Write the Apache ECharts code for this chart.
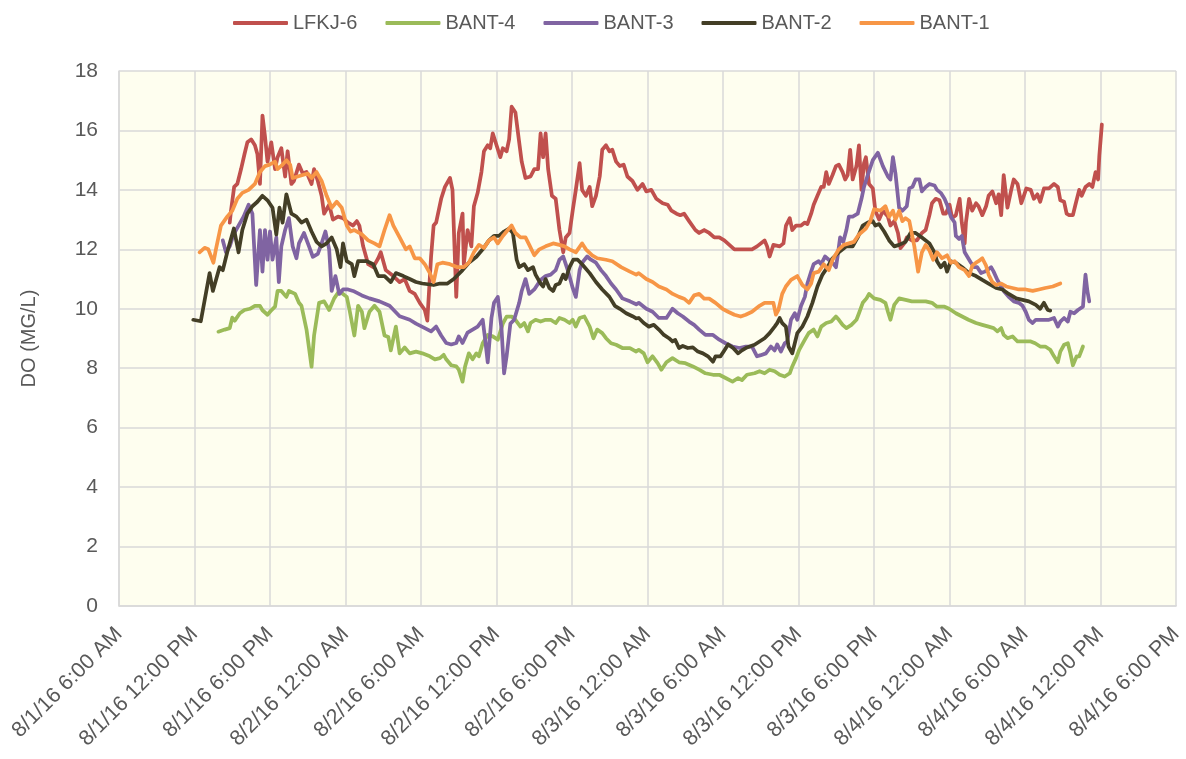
<!DOCTYPE html>
<html>
<head>
<meta charset="utf-8">
<script src="https://cdn.jsdelivr.net/npm/echarts@6/dist/echarts.min.js"></script>
<style>
html,body{margin:0;padding:0;background:#fff;}
#chart{width:1186px;height:759px;}
</style>
</head>
<body>
<div id="chart"></div>
<script>
// x values are hours after 8/1/16 6:00 AM
var tickLabels = ['8/1/16 6:00 AM','8/1/16 12:00 PM','8/1/16 6:00 PM','8/2/16 12:00 AM','8/2/16 6:00 AM','8/2/16 12:00 PM','8/2/16 6:00 PM','8/3/16 12:00 AM','8/3/16 6:00 AM','8/3/16 12:00 PM','8/3/16 6:00 PM','8/4/16 12:00 AM','8/4/16 6:00 AM','8/4/16 12:00 PM','8/4/16 6:00 PM'];
var seriesNames = ['LFKJ-6','BANT-4','BANT-3','BANT-2','BANT-1'];

var lfkj6 = [[8.8,12.9],[8.9,13.3],[9.15,14.1],[9.4,14.2],[9.7,14.7],[9.97,15.2],[10.2,15.6],[10.5,15.7],[10.8,15.5],[11.0,15.2],[11.2,14.2],[11.4,16.5],[11.6,15.8],[11.8,14.95],[12.1,15.6],[12.4,14.7],[12.6,15.1],[12.9,15.4],[13.2,14.45],[13.4,15.3],[13.7,14.2],[13.9,14.3],[14.3,14.85],[14.6,14.55],[14.9,14.6],[15.3,14.2],[15.5,14.7],[15.8,14.3],[16.1,13.8],[16.3,13.2],[16.7,13.5],[17.0,13.0],[17.4,13.1],[17.8,13.05],[18.2,12.9],[18.6,12.8],[18.9,12.95],[19.1,12.8],[19.4,12.1],[19.8,11.5],[20.2,11.4],[20.6,11.7],[20.8,11.9],[21.2,11.3],[21.8,11.1],[22.3,10.9],[22.7,11.0],
[23.1,10.6],[23.5,10.5],[23.9,10.2],[24.3,9.96],[24.5,9.6],[24.8,11.76],[25.0,12.8],[25.2,12.9],[25.6,13.7],[25.9,14.1],[26.3,14.4],[26.5,14.0],[26.8,10.4],[27.0,12.55],[27.3,13.2],[27.4,11.5],[27.7,12.65],[28.0,12.1],[28.2,13.45],[28.5,13.9],[28.8,14.6],[29.0,15.3],[29.3,15.5],[29.5,15.4],[29.7,15.9],[30.0,15.5],[30.3,15.1],[30.5,15.4],[30.8,15.3],[31.0,15.7],[31.2,16.8],[31.5,16.6],[31.8,15.6],[32.0,14.95],[32.3,14.4],[32.7,14.45],[33.0,14.7],[33.3,14.7],[33.5,15.9],[33.7,15.1],[33.9,15.9],[34.1,14.7],[34.4,13.8],[34.7,13.7],[35.0,12.65],[35.3,11.9],[35.5,12.4],[35.8,12.55],[36.05,13.3],[36.3,14.0],[36.6,14.9],[36.8,14.0],[37.1,13.8],[37.4,14.1],[37.6,13.45],[37.9,13.8],[38.2,14.45],[38.4,15.35],[38.7,15.5],[38.97,15.3],[39.2,15.35],[39.5,14.95],[39.8,14.8],[40.1,14.85],[40.4,14.45],[40.8,14.3],[41.2,14.0],
[41.6,14.2],[41.9,13.95],[42.3,14.0],[42.7,13.7],[43.2,13.55],[43.6,13.5],[43.9,13.3],[44.3,13.2],[44.6,13.15],[44.9,13.2],[45.3,12.95],[45.8,12.65],[46.1,12.55],[46.5,12.65],[46.9,12.55],[47.3,12.4],[47.7,12.4],[48.1,12.3],[48.5,12.15],[48.9,12.0],[49.3,12.0],[49.8,12.0],[50.3,12.0],[50.7,12.1],[51.3,12.3],[51.5,12.1],[51.7,11.76],[52.0,12.15],[52.5,12.1],[52.8,12.2],[53.0,12.8],[53.3,13.05],[53.5,12.65],[53.8,12.8],[54.2,12.8],[54.5,12.9],[54.7,12.85],[55.0,13.2],[55.2,13.5],[55.5,13.8],[55.8,14.1],[56.0,14.1],[56.2,14.6],[56.4,14.2],[56.7,14.5],[56.97,14.8],[57.2,14.85],[57.5,14.6],[57.7,14.35],[57.9,14.5],[58.1,15.35],[58.3,14.35],[58.6,14.8],[58.8,15.5],[59.0,14.0],[59.2,14.9],[59.35,15.1],[59.6,14.2],
[59.9,14.05],[60.1,13.3],[60.4,13.0],[60.7,13.3],[61.1,13.1],[61.3,12.8],[61.6,12.95],[61.9,12.55],[62.1,12.04],[62.4,12.2],[62.6,12.4],[63.0,12.3],[63.4,12.3],[63.8,12.55],[64.1,12.65],[64.4,13.15],[64.6,13.55],[64.9,13.7],[65.2,13.65],[65.5,13.2],[65.7,13.2],[66.0,13.5],[66.2,13.05],[66.5,13.15],[66.8,13.7],[66.97,12.9],[67.2,12.2],[67.3,12.9],[67.55,13.7],[67.8,13.3],[68.1,13.55],[68.3,13.45],[68.6,13.15],[68.9,13.45],[69.1,13.8],[69.4,13.95],[69.7,13.55],[69.9,13.85],[70.1,13.15],[70.3,14.5],[70.6,13.4],[70.9,14.0],[71.1,14.35],[71.4,14.2],[71.7,13.55],[71.9,13.8],[72.1,14.05],[72.45,14.0],[72.7,13.7],[72.98,13.85],[73.2,13.6],[73.5,14.05],[73.9,14.05],[74.3,14.2],[74.6,14.1],[74.8,13.65],[75.1,13.6],[75.3,13.2],[75.5,13.15],[75.8,13.15],[76.0,13.5],[76.3,14.0],[76.5,13.8],[76.8,14.1],[77.1,14.2],[77.35,14.1],[77.6,14.6],[77.8,14.35],[77.9,15.15],[78.1,16.2]];

var bant4 = [[7.9,9.23],[8.4,9.3],[8.8,9.35],[9.0,9.7],[9.2,9.6],[9.6,9.85],[9.97,9.96],[10.4,10.0],[10.8,10.1],[11.2,10.1],[11.4,9.95],[11.8,9.8],[12.1,9.95],[12.4,10.07],[12.6,10.6],[12.9,10.6],[13.3,10.4],[13.5,10.6],[14.0,10.5],[14.3,10.2],[14.5,10.1],[14.9,9.3],[15.3,8.05],[15.5,9.1],[15.9,10.2],[16.3,10.25],[16.7,9.96],[17.1,10.35],[17.5,10.6],[17.8,10.5],[18.1,10.4],[18.3,10.0],[18.7,9.1],[19.0,10.1],[19.3,9.9],[19.5,9.35],[19.9,9.9],[20.3,10.1],[20.7,9.9],[21.1,9.1],[21.4,9.05],[21.6,8.6],[22.0,9.4],[22.3,8.5],[22.7,8.7],
[23.1,8.5],[23.6,8.56],[24.1,8.5],[24.7,8.4],[25.1,8.3],[25.5,8.34],[25.8,8.45],[26.0,8.3],[26.4,8.1],[26.8,8.06],[27.0,7.95],[27.3,7.55],[27.5,8.06],[27.8,8.5],[28.1,8.3],[28.4,8.5],[28.6,8.4],[28.9,8.84],[29.3,9.12],[29.7,9.07],[30.1,8.96],[30.5,9.5],[30.8,9.74],[31.2,9.74],[31.5,9.63],[31.9,9.4],[32.2,9.52],[32.5,9.24],[32.7,9.52],[33.1,9.63],[33.5,9.57],[33.9,9.63],[34.3,9.63],[34.7,9.52],[35.0,9.69],[35.4,9.63],[35.8,9.52],[36.05,9.63],[36.3,9.4],[36.6,9.69],[36.98,9.74],[37.4,9.4],[37.7,9.01],[38.0,9.3],[38.4,9.18],[38.7,9.01],[39.1,8.84],[39.5,8.79],[40.0,8.68],[40.6,8.68],[41.1,8.56],
[41.3,8.62],[41.7,8.5],[42.0,8.2],[42.4,8.4],[42.8,8.17],[43.1,7.95],[43.5,8.2],[43.98,8.34],[44.5,8.2],[45.0,8.17],[45.6,8.06],[46.1,7.95],[46.6,7.83],[47.2,7.78],[47.7,7.78],[48.2,7.67],[48.75,7.55],[49.2,7.67],[49.5,7.6],[49.9,7.78],[50.5,7.83],[50.9,7.9],[51.3,7.83],[51.7,7.95],[52.1,7.9],[52.5,7.78],[52.9,7.72],[53.3,7.83],[53.5,8.06],[53.8,8.34],[54.05,8.62],[54.5,8.96],[54.8,9.18],[55.2,9.3],[55.5,9.07],[55.8,9.4],[56.2,9.52],[56.6,9.57],[56.97,9.74],[57.2,9.63],[57.5,9.46],[57.8,9.35],[58.2,9.46],[58.6,9.63],[58.8,9.85],[59.1,10.2],[59.4,10.35],[59.6,10.5],
[60.0,10.35],[60.5,10.3],[60.9,10.2],[61.1,9.9],[61.3,9.63],[61.6,10.13],[61.99,10.35],[62.5,10.3],[63.0,10.25],[63.6,10.25],[64.1,10.25],[64.6,10.2],[65.0,10.07],[65.6,10.07],[65.96,10.0],[66.5,9.85],[67.0,9.74],[67.5,9.63],[68.1,9.52],[68.6,9.46],[69.1,9.4],[69.5,9.35],[69.8,9.24],[70.1,9.35],[70.3,9.12],[70.6,9.01],[71.0,9.07],[71.4,8.9],[71.9,8.9],[72.45,8.9],[72.8,8.84],[73.2,8.73],[73.6,8.73],[74.0,8.62],[74.3,8.4],[74.6,8.2],[74.8,8.56],[75.1,8.79],[75.4,8.84],[75.6,8.5],[75.8,8.1],[76.1,8.4],[76.3,8.4],[76.6,8.73]];

var bant3 = [[8.25,12.3],[8.5,11.9],[8.8,12.1],[9.1,12.5],[9.5,12.8],[9.9,13.1],[10.3,13.5],[10.6,13.2],[10.9,10.8],[11.2,12.65],[11.4,11.25],[11.6,12.65],[11.8,11.65],[12.0,12.6],[12.2,11.65],[12.5,12.4],[12.7,10.9],[12.9,12.1],[13.2,12.65],[13.5,13.05],[13.8,12.1],[14.1,11.7],[14.3,12.2],[14.7,12.55],[15.1,12.1],[15.4,11.75],[15.8,11.85],[16.1,12.2],[16.4,12.6],[16.7,12.0],[16.9,10.6],[17.2,11.1],[17.5,10.5],[17.8,10.65],[18.2,10.65],[18.6,10.6],[19.3,10.45],[19.9,10.35],[20.7,10.25],[21.5,10.1],[22.3,9.75],
[23.1,9.63],[23.6,9.5],[24.3,9.35],[24.8,9.24],[25.2,9.4],[25.6,9.1],[26.0,8.85],[26.4,8.8],[26.8,8.85],[27.0,9.07],[27.3,8.85],[27.7,9.2],[28.1,9.3],[28.5,9.4],[28.9,9.63],[29.1,8.96],[29.3,8.2],[29.6,9.7],[29.8,10.2],[30.1,10.4],[30.4,9.3],[30.6,7.83],[30.8,8.4],[31.1,9.5],[31.4,9.63],[31.8,10.2],[32.0,10.6],[32.3,11.0],[32.6,10.5],[33.0,10.65],[33.5,10.97],[33.9,11.1],[34.3,11.15],[34.7,11.3],[35.0,11.65],[35.3,11.76],[35.5,11.5],[35.7,11.25],[36.05,10.7],[36.3,10.4],[36.6,11.3],[36.8,11.55],[37.2,11.76],[37.5,11.65],[37.9,11.55],[38.3,11.3],[38.7,11.1],[39.1,10.85],[39.5,10.65],[40.0,10.35],[40.6,10.25],[41.1,10.15],
[41.3,10.2],[41.9,10.0],[42.4,9.9],[42.9,9.69],[43.5,9.69],[43.98,10.0],[44.4,9.85],[44.8,9.74],[45.3,9.57],[45.7,9.46],[46.1,9.3],[46.6,9.12],[47.2,9.12],[47.7,8.96],[48.2,8.84],[48.75,8.73],[49.3,8.68],[49.8,8.73],[50.3,8.73],[50.7,8.4],[51.0,8.44],[51.4,8.5],[51.8,8.73],[52.1,8.6],[52.3,8.8],[52.6,8.56],[52.9,8.84],[53.1,8.9],[53.4,9.63],[53.7,9.85],[53.9,9.63],[54.2,10.1],[54.5,10.4],[54.7,10.85],[55.0,11.25],[55.2,11.5],[55.6,11.6],[55.8,11.5],[56.1,11.76],[56.4,11.65],[56.7,11.55],[56.97,11.4],[57.1,11.76],[57.3,12.4],[57.55,12.25],[57.8,12.65],[58.0,13.1],[58.3,13.1],[58.7,13.2],[59.0,13.7],[59.2,14.1],[59.5,14.5],
[59.9,15.0],[60.3,15.25],[60.7,14.8],[61.1,14.45],[61.3,14.35],[61.5,15.1],[61.7,14.55],[61.99,13.4],[62.25,13.3],[62.6,13.45],[62.8,14.05],[63.05,14.1],[63.3,14.35],[63.6,14.35],[63.8,13.95],[64.1,14.1],[64.4,14.2],[64.8,14.15],[65.0,14.0],[65.3,13.9],[65.6,13.7],[65.8,13.5],[66.1,13.1],[66.4,12.9],[66.5,12.45],[66.75,12.35],[66.97,12.45],[67.2,11.9],[67.4,11.76],[67.7,11.55],[67.95,11.4],[68.2,11.4],[68.5,11.2],[68.8,11.25],[69.0,11.3],[69.3,11.4],[69.5,11.25],[69.8,10.97],[70.1,10.75],[70.3,10.6],[70.7,10.4],[71.1,10.25],[71.5,10.2],[71.8,10.1],[72.05,9.9],[72.3,9.63],[72.6,9.52],[72.85,9.63],[73.4,9.63],[73.9,9.63],[74.3,9.69],[74.6,9.4],[74.8,9.57],[75.1,9.69],[75.4,9.57],[75.6,9.9],[75.9,9.85],[76.2,9.96],[76.6,10.07],[76.7,10.65],[76.8,11.15],[76.95,10.6],[77.1,10.25]];

var bant2 = [[5.9,9.63],[6.5,9.58],[7.2,11.2],[7.46,10.6],[7.99,11.4],[8.25,11.3],[8.6,11.9],[9.13,12.7],[9.5,11.9],[9.8,12.65],[10.2,13.2],[10.6,13.45],[11.0,13.6],[11.4,13.8],[11.8,13.65],[12.2,13.4],[12.5,12.5],[12.75,13.4],[13.0,12.9],[13.3,13.85],[13.7,13.2],[14.1,13.1],[14.5,12.9],[14.9,13.0],[15.3,12.6],[15.7,12.25],[16.1,12.1],[16.5,12.2],[16.9,12.4],[17.3,12.0],[17.6,11.4],[17.8,12.2],[18.1,11.6],[18.5,11.5],[18.7,11.1],[19.0,11.6],[19.7,11.6],[20.2,11.5],[20.6,11.1],[21.1,11.1],[21.6,10.9],[22.0,11.2],[22.6,11.1],
[23.1,11.0],[23.6,10.9],[24.1,10.85],[25.0,10.8],[25.5,10.85],[26.1,10.85],[26.6,11.0],[27.3,11.3],[27.8,11.55],[28.4,11.75],[28.9,12.0],[29.4,12.3],[29.8,12.45],[30.2,12.45],[30.6,12.6],[31.0,12.7],[31.3,12.55],[31.6,11.65],[31.8,11.4],[32.2,11.5],[32.5,11.3],[32.9,11.4],[33.1,11.15],[33.5,10.85],[33.7,10.75],[33.9,11.0],[34.2,10.7],[34.5,10.6],[34.7,10.8],[35.0,10.85],[35.3,11.15],[35.5,11.0],[35.8,11.4],[36.1,11.65],[36.45,11.65],[36.8,11.5],[37.4,11.2],[37.9,10.9],[38.4,10.65],[38.97,10.4],[39.4,10.1],[39.8,10.0],[40.3,9.85],[40.8,9.75],[41.1,9.68],
[41.3,9.69],[41.7,9.52],[42.1,9.4],[42.5,9.46],[42.9,9.3],[43.3,9.12],[43.7,9.01],[43.98,8.9],[44.2,8.95],[44.5,8.68],[44.8,8.75],[45.2,8.68],[45.6,8.7],[46.0,8.56],[46.4,8.5],[46.8,8.4],[47.2,8.22],[47.4,8.4],[47.8,8.4],[48.1,8.6],[48.4,8.8],[48.8,8.68],[49.2,8.5],[49.5,8.6],[49.9,8.7],[50.5,8.79],[50.9,8.9],[51.3,9.01],[51.7,9.18],[52.1,9.4],[52.3,9.52],[52.5,9.69],[52.7,9.52],[52.99,9.4],[53.2,8.73],[53.5,8.5],[53.7,8.84],[53.9,9.18],[54.3,9.4],[54.7,9.74],[55.1,10.2],[55.5,10.75],[55.9,11.15],[56.3,11.4],[56.7,11.7],[57.2,11.9],[57.8,12.1],[58.3,12.1],[58.7,12.4],[59.1,12.8],[59.5,12.9],
[59.9,12.95],[60.1,12.8],[60.4,12.85],[60.8,12.6],[61.2,12.3],[61.6,12.1],[61.99,12.15],[62.5,12.25],[62.9,12.55],[63.3,12.55],[63.8,12.4],[64.4,12.2],[64.8,11.9],[65.0,11.6],[65.3,11.4],[65.6,11.55],[65.8,11.25],[66.1,11.6],[66.5,11.55],[67.0,11.4],[67.55,11.2],[68.1,11.1],[68.6,10.97],[69.1,10.85],[69.7,10.7],[70.2,10.65],[70.7,10.5],[71.3,10.35],[71.8,10.3],[72.3,10.25],[72.85,10.13],[73.2,10.0],[73.5,10.2],[73.8,9.96],[74.0,9.94]];

var bant1 = [[6.4,11.9],[6.8,12.05],[7.1,12.0],[7.5,11.55],[7.7,12.0],[8.1,12.8],[8.6,13.1],[9.0,13.3],[9.4,13.7],[9.8,13.9],[10.3,14.0],[10.8,14.2],[11.2,14.6],[11.6,14.8],[11.96,14.85],[12.4,14.95],[12.6,14.7],[13.0,14.85],[13.3,15.0],[13.6,14.85],[13.8,14.4],[14.2,14.45],[14.6,14.5],[15.0,14.55],[15.3,14.4],[15.7,14.6],[16.1,14.3],[16.5,13.8],[16.9,13.4],[17.3,13.6],[17.7,13.4],[18.1,12.8],[18.4,12.6],[18.7,12.65],[19.3,12.5],[19.8,12.3],[20.3,12.2],[20.7,12.1],[21.1,12.65],[21.5,13.15],[21.8,12.8],[22.3,12.4],[22.8,12.0],
[23.1,12.1],[23.5,11.7],[23.9,11.7],[24.3,11.5],[24.7,11.2],[25.0,10.9],[25.3,11.5],[25.7,11.55],[26.3,11.5],[26.9,11.4],[27.4,11.4],[27.8,11.55],[28.2,11.9],[28.6,12.15],[29.0,12.05],[29.4,12.3],[29.8,12.4],[30.1,12.2],[30.5,12.45],[30.9,12.65],[31.2,12.8],[31.5,12.55],[31.9,12.4],[32.3,12.4],[32.6,12.15],[33.0,11.8],[33.4,12.0],[33.9,12.1],[34.5,12.2],[35.0,12.15],[35.4,12.1],[35.8,12.0],[36.3,11.9],[36.8,12.2],[37.1,12.0],[37.6,11.8],[38.0,11.7],[38.7,11.65],[39.2,11.6],[39.9,11.4],[40.6,11.25],[41.1,11.15],
[41.3,11.2],[41.9,11.0],[42.4,10.9],[42.9,10.75],[43.5,10.65],[44.0,10.5],[44.5,10.4],[44.9,10.34],[45.3,10.2],[45.7,10.45],[46.1,10.5],[46.5,10.34],[46.9,10.34],[47.4,10.2],[47.96,10.0],[48.4,9.9],[48.9,9.8],[49.4,9.74],[49.8,9.8],[50.3,9.9],[50.9,10.1],[51.3,10.2],[51.7,10.2],[52.0,10.2],[52.2,9.8],[52.4,9.96],[52.7,10.5],[52.99,10.75],[53.4,10.97],[53.9,11.1],[54.3,10.8],[54.7,10.65],[55.0,10.85],[55.2,11.2],[55.6,11.25],[56.0,11.5],[56.4,11.3],[56.7,11.65],[57.2,12.0],[57.6,12.15],[58.0,12.2],[58.4,12.25],[58.8,12.5],[59.35,12.7],[59.7,12.95],
[60.0,13.35],[60.5,13.3],[60.9,13.45],[61.2,13.1],[61.5,13.3],[61.7,13.0],[62.0,13.3],[62.25,12.95],[62.5,13.05],[62.8,12.95],[63.2,12.1],[63.5,11.25],[63.8,11.9],[64.1,12.15],[64.4,11.96],[64.7,11.65],[65.0,11.9],[65.4,11.7],[65.8,11.8],[66.1,11.55],[66.4,11.6],[66.75,11.4],[67.2,11.3],[67.55,11.1],[67.8,11.45],[68.1,11.55],[68.3,11.6],[68.6,11.7],[68.9,11.45],[69.1,11.15],[69.4,10.9],[69.7,10.8],[70.1,10.85],[70.5,10.75],[71.0,10.7],[71.5,10.65],[72.05,10.65],[72.6,10.6],[73.1,10.65],[73.6,10.7],[74.2,10.75],[74.8,10.85]];

var seriesData = [lfkj6, bant4, bant3, bant2, bant1];
var colors = ['#C0504D','#9BBB59','#8064A2','#433E26','#F79646'];
var FONT = "'Liberation Sans', Arial, sans-serif";
var TXT = '#595959';

var chart = echarts.init(document.getElementById('chart'), null, {renderer:'canvas'});
var series = seriesNames.map(function(n, i){
  return {
    name: n, type: 'line', data: seriesData[i], showSymbol: false, symbol: 'none',
    lineStyle: {color: colors[i], width: 3.75, cap: 'round', join: 'round'},
    itemStyle: {color: colors[i]}, animation: false, z: 2 + i
  };
});
chart.setOption({
  animation: false,
  color: colors,
  textStyle: {fontFamily: FONT},
  legend: {
    data: seriesNames, left: 228, top: 8, itemWidth: 55, itemHeight: 4, itemGap: 28,
    icon: 'roundRect',
    textStyle: {fontSize: 20, color: TXT, fontFamily: FONT}
  },
  grid: {left: 119, right: 6, top: 71, bottom: 153, show: true, backgroundColor: '#FEFEEF', borderWidth: 0},
  xAxis: {
    type: 'value', min: 0, max: 84, interval: 6,
    axisLine: {show: true, lineStyle: {color: '#D9D9D9', width: 1.5}},
    axisTick: {show: false},
    splitLine: {show: true, lineStyle: {color: '#D9D9D9', width: 1.5}},
    axisLabel: {
      rotate: 45, margin: 25, fontSize: 21.5, color: TXT, fontFamily: FONT,
      showMinLabel: true, showMaxLabel: true,
      formatter: function(v){ return tickLabels[Math.round(v/6)] || ''; }
    }
  },
  yAxis: {
    type: 'value', min: 0, max: 18, interval: 2,
    name: 'DO (MG/L)', nameLocation: 'middle', nameGap: 80, nameRotate: 90,
    nameTextStyle: {fontSize: 20, color: TXT, fontFamily: FONT},
    axisLine: {show: true, lineStyle: {color: '#D9D9D9', width: 1.5}},
    axisTick: {show: false},
    splitLine: {show: true, lineStyle: {color: '#D9D9D9', width: 1.5}},
    axisLabel: {margin: 21, fontSize: 21, color: TXT, fontFamily: FONT}
  },
  series: series
});
</script>
</body>
</html>
